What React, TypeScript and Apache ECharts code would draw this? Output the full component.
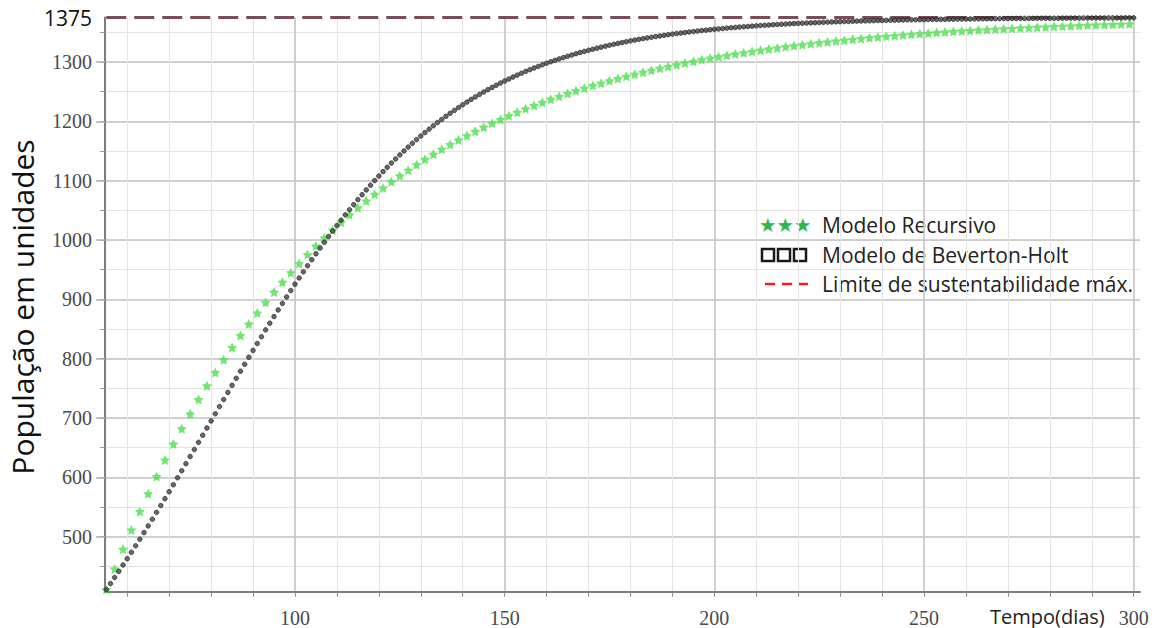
import React, { useEffect, useRef } from 'react';
import * as echarts from 'echarts';

// ---- axis ranges / ticks ----
const xMin = 54.7;
const xMax = 301.5;
const yMin = 407.4;
const yMax = 1375;
const xMinorTicks = [60, 70, 80, 90, 100, 110, 120, 130, 140, 150, 160, 170, 180, 190, 200, 210, 220, 230, 240, 250, 260, 270, 280, 290, 300];
const xMajorTicks = [100, 150, 200, 250, 300];
const yMinorTicks = [450, 500, 550, 600, 650, 700, 750, 800, 850, 900, 950, 1000, 1050, 1100, 1150, 1200, 1250, 1300, 1350];
const yMajorTicks = [500, 600, 700, 800, 900, 1000, 1100, 1200, 1300];
const yTopTick = [1375];

// ---- carrying capacity line ----
const limitValue = 1375;
const limitDays = [55, 300];

// ---- Beverton-Holt model: one value per day, day 55 .. 300 ----
const bhStartDay = 55;
const bhStepDays = 1;
const bhValues = [
  411, 421.1, 431.4, 441.8, 452.4, 463.1, 473.9, 484.8, 495.8, 507.0,
  518.3, 529.6, 541.1, 552.6, 564.2, 575.9, 587.6, 599.4, 611.3, 623.2,
  635.1, 647.1, 659.1, 671.1, 683.2, 695.2, 707.2, 719.3, 731.2, 743.2,
  755.1, 767.0, 778.9, 790.6, 802.4, 814.0, 825.6, 837.1, 848.6, 859.9,
  871.1, 882.2, 893.2, 904.1, 914.9, 925.6, 936.1, 946.5, 956.7, 966.8,
  976.8, 986.6, 996.3, 1005.9, 1015.2, 1024.4, 1033.5, 1042.4, 1051.1, 1059.7,
  1068.1, 1076.4, 1084.5, 1092.4, 1100.2, 1107.8, 1115.3, 1122.5, 1129.7, 1136.6,
  1143.5, 1150.1, 1156.6, 1163.0, 1169.2, 1175.2, 1181.2, 1186.9, 1192.5, 1198.0,
  1203.3, 1208.5, 1213.6, 1218.4, 1223.3, 1227.9, 1232.5, 1237.0, 1241.2, 1245.4,
  1249.4, 1253.4, 1257.2, 1260.9, 1264.5, 1268.0, 1271.4, 1274.7, 1277.9, 1281.1,
  1284.1, 1287.0, 1289.9, 1292.6, 1295.3, 1297.9, 1300.4, 1302.8, 1305.2, 1307.4,
  1309.7, 1311.8, 1313.9, 1315.9, 1317.8, 1319.7, 1321.5, 1323.3, 1325.0, 1326.7,
  1328.3, 1329.8, 1331.3, 1332.8, 1334.2, 1335.6, 1336.9, 1338.2, 1339.4, 1340.6,
  1341.8, 1342.9, 1343.9, 1345.0, 1346.0, 1347.0, 1347.9, 1348.8, 1349.7, 1350.6,
  1351.4, 1352.2, 1353.0, 1353.7, 1354.4, 1355.1, 1355.8, 1356.4, 1357.1, 1357.7,
  1358.3, 1358.8, 1359.4, 1359.9, 1360.4, 1360.9, 1361.4, 1361.9, 1362.3, 1362.8,
  1363.2, 1363.6, 1364.0, 1364.4, 1364.7, 1365.1, 1365.4, 1365.7, 1366.0, 1366.3,
  1366.6, 1366.9, 1367.2, 1367.5, 1367.7, 1368.0, 1368.2, 1368.4, 1368.7, 1368.9,
  1369.1, 1369.3, 1369.5, 1369.7, 1369.9, 1370.0, 1370.2, 1370.4, 1370.5, 1370.7,
  1370.8, 1371.0, 1371.1, 1371.2, 1371.4, 1371.5, 1371.6, 1371.7, 1371.8, 1371.9,
  1372.0, 1372.1, 1372.2, 1372.3, 1372.4, 1372.5, 1372.6, 1372.7, 1372.8, 1372.8,
  1372.9, 1373.0, 1373.0, 1373.1, 1373.2, 1373.2, 1373.3, 1373.4, 1373.4, 1373.5,
  1373.5, 1373.6, 1373.6, 1373.7, 1373.7, 1373.8, 1373.8, 1373.8, 1373.9, 1373.9,
  1374.0, 1374.0, 1374.0, 1374.1, 1374.1, 1374.1, 1374.2, 1374.2, 1374.2, 1374.3,
  1374.3, 1374.3, 1374.3, 1374.4, 1374.4, 1374.4,
];

// ---- Recursive model: one value every 2 days, day 55 .. 299 ----
const recStartDay = 55;
const recStepDays = 2;
const recValues = [
  411.0, 445.7, 479.2, 511.5, 542.6, 572.6, 601.5, 629.4, 656.3, 682.2,
  707.1, 731.2, 754.4, 776.8, 798.3, 819.1, 839.1, 858.4, 877.0, 895.0,
  912.3, 929.0, 945.0, 960.5, 975.5, 989.9, 1003.7, 1017.1, 1030.0, 1042.4,
  1054.4, 1066.0, 1077.1, 1087.8, 1098.2, 1108.2, 1117.8, 1127.0, 1136.0, 1144.6,
  1152.9, 1160.9, 1168.6, 1176.0, 1183.2, 1190.1, 1196.8, 1203.2, 1209.4, 1215.4,
  1221.1, 1226.7, 1232.0, 1237.2, 1242.1, 1246.9, 1251.5, 1256.0, 1260.3, 1264.4,
  1268.4, 1272.2, 1275.9, 1279.5, 1282.9, 1286.3, 1289.5, 1292.5, 1295.5, 1298.4,
  1301.1, 1303.8, 1306.4, 1308.8, 1311.2, 1313.5, 1315.7, 1317.9, 1319.9, 1321.9,
  1323.8, 1325.7, 1327.4, 1329.2, 1330.8, 1332.4, 1333.9, 1335.4, 1336.8, 1338.2,
  1339.5, 1340.9, 1342.1, 1343.3, 1344.4, 1345.5, 1346.6, 1347.6, 1348.6, 1349.6,
  1350.5, 1351.4, 1352.2, 1353.0, 1353.8, 1354.6, 1355.3, 1356.0, 1356.7, 1357.4,
  1358.0, 1358.6, 1359.2, 1359.8, 1360.3, 1360.9, 1361.4, 1361.9, 1362.3, 1362.8,
  1363.2, 1363.6, 1364.1,
];

const legendLabels = ['Modelo Recursivo', 'Modelo de Beverton-Holt', 'Limite de sustentabilidade máx.'];
const xAxisName = 'Tempo(dias)';
const yAxisName = 'População em unidades';

const STAR = 'path://M0,-10L2.94,-4.05L9.51,-3.09L4.76,1.55L5.88,8.09L0,5L-5.88,8.09L-4.76,1.55L-9.51,-3.09L-2.94,-4.05Z';

export default function App() {
  const ref = useRef<HTMLDivElement>(null);
  useEffect(() => {
    if (!ref.current) return;
    const chart = echarts.init(ref.current, undefined, { renderer: 'svg' });
    const bhData = bhValues.map((v, i) => [bhStartDay + i * bhStepDays, v]);
    const recData = recValues.map((v, i) => [recStartDay + i * recStepDays, v]);
    const serif = 'Liberation Serif';
    const sans = 'Open Sans';
    const plain = (v: number) => String(v);
    const baseX = {
      type: 'value', min: xMin, max: xMax, position: 'bottom', gridIndex: 0,
    };
    const baseY = {
      type: 'value', min: yMin, max: yMax, position: 'left', gridIndex: 0,
    };
    chart.setOption({
      animation: false,
      backgroundColor: '#ffffff',
      grid: { left: 105, right: 15, top: 17.5, bottom: 36.3, containLabel: false },
      xAxis: [
        {
          ...baseX,
          axisLine: { show: true, lineStyle: { color: '#7d7d7d', width: 2 } },
          axisTick: { show: true, customValues: xMinorTicks, length: 5, lineStyle: { color: '#8a8a8a', width: 1 } },
          axisLabel: { show: false },
          splitLine: { show: true, lineStyle: { color: '#e4e4e4', width: 1 } },
        },
        {
          ...baseX,
          axisLine: { show: false },
          axisTick: { show: false, customValues: xMajorTicks },
          axisLabel: { show: true, customValues: xMajorTicks, formatter: plain, margin: 16, fontFamily: serif, fontSize: 20, color: '#4a4a4a' },
          splitLine: { show: true, lineStyle: { color: '#c4c4c4', width: 1.5 } },
        },
      ],
      yAxis: [
        {
          ...baseY,
          axisLine: { show: true, lineStyle: { color: '#7d7d7d', width: 2 } },
          axisTick: { show: true, customValues: yMinorTicks, length: 5, lineStyle: { color: '#9a9a9a', width: 1 } },
          axisLabel: { show: false },
          splitLine: { show: true, lineStyle: { color: '#e4e4e4', width: 1 } },
        },
        {
          ...baseY,
          axisLine: { show: false },
          axisTick: { show: true, customValues: yMajorTicks, length: 9, lineStyle: { color: '#b0b0b0', width: 1.5 } },
          axisLabel: { show: true, customValues: yMajorTicks, formatter: plain, margin: 13, fontFamily: serif, fontSize: 20, color: '#4a4a4a' },
          splitLine: { show: true, lineStyle: { color: '#c4c4c4', width: 1.5 } },
        },
        {
          ...baseY,
          axisLine: { show: false },
          axisTick: { show: false, customValues: yTopTick },
          axisLabel: { show: true, customValues: yTopTick, formatter: plain, showMaxLabel: true, margin: 13, fontFamily: sans, fontSize: 21, color: '#111' },
          splitLine: { show: false },
        },
      ],
      series: [
        {
          name: legendLabels[2],
          type: 'line',
          xAxisIndex: 0,
          yAxisIndex: 0,
          data: limitDays.map((d) => [d, limitValue]),
          symbol: 'none',
          lineStyle: { color: '#7a4d57', width: 3, type: [20, 8] },
          z: 3,
        },
        {
          name: legendLabels[0],
          type: 'scatter',
          xAxisIndex: 0,
          yAxisIndex: 0,
          data: recData,
          symbol: STAR,
          symbolSize: 10,
          itemStyle: { color: '#4fe04f' },
          z: 4,
        },
        {
          name: legendLabels[1],
          type: 'scatter',
          xAxisIndex: 0,
          yAxisIndex: 0,
          data: bhData,
          symbol: 'circle',
          symbolSize: 4.6,
          itemStyle: { color: '#444', borderColor: '#1a1a1a', borderWidth: 0.8 },
          z: 5,
        },
      ],
      graphic: [
        {
          type: 'text', x: 22, y: 307, rotation: Math.PI / 2,
          style: { text: yAxisName, font: `30px "${sans}"`, fill: '#111', align: 'center', verticalAlign: 'middle' },
        },
        {
          type: 'text', x: 990, y: 616,
          style: { text: xAxisName, font: `20px "${sans}"`, fill: '#222', align: 'left', verticalAlign: 'middle' },
        },
        {
          type: 'text', x: 759, y: 225,
          style: { text: '★★★', font: '19.5px "DejaVu Sans"', fill: '#2eb84a', align: 'left', verticalAlign: 'middle' },
        },
        {
          type: 'text', x: 822, y: 225,
          style: { text: legendLabels[0], font: `21px "${sans}"`, fill: '#222', align: 'left', verticalAlign: 'middle' },
        },
        { type: 'rect', shape: { x: 762, y: 249, width: 12, height: 12 }, style: { fill: 'none', stroke: '#1a1a1a', lineWidth: 2.5 } },
        { type: 'rect', shape: { x: 778, y: 249, width: 12, height: 12 }, style: { fill: 'none', stroke: '#1a1a1a', lineWidth: 2.5 } },
        { type: 'rect', shape: { x: 794, y: 249, width: 12, height: 12 }, style: { fill: 'none', stroke: '#1a1a1a', lineWidth: 2.5 } },
        {
          type: 'text', x: 822, y: 255,
          style: { text: legendLabels[1], font: `21px "${sans}"`, fill: '#222', align: 'left', verticalAlign: 'middle' },
        },
        { type: 'line', shape: { x1: 765, y1: 284, x2: 775, y2: 284 }, style: { stroke: '#ff1a1a', lineWidth: 2.5 } },
        { type: 'line', shape: { x1: 782, y1: 284, x2: 792, y2: 284 }, style: { stroke: '#ff1a1a', lineWidth: 2.5 } },
        { type: 'line', shape: { x1: 798, y1: 284, x2: 808, y2: 284 }, style: { stroke: '#ff1a1a', lineWidth: 2.5 } },
        {
          type: 'text', x: 822, y: 284,
          style: { text: legendLabels[2], font: `21px "${sans}"`, fill: '#222', align: 'left', verticalAlign: 'middle' },
        },
      ],
    });
    return () => chart.dispose();
  }, []);
  return (
    <div
      ref={ref}
      style={{ position: 'fixed', left: 0, top: 0, width: 1155, height: 628, background: '#fff' }}
    />
  );
}
